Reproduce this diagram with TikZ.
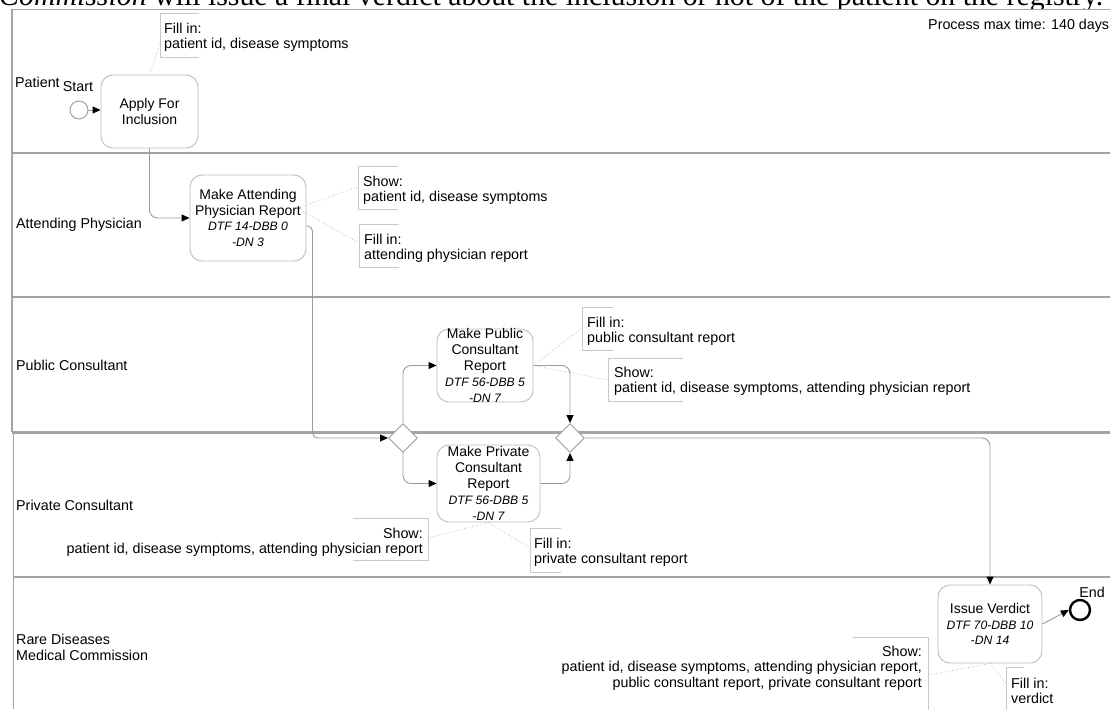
\documentclass[tikz,border=0pt]{standalone}
\usepackage{fontspec}
\setmainfont{Liberation Sans}
\newfontfamily\serifface{Liberation Serif}
\usetikzlibrary{arrows.meta,shapes.geometric,calc}

\definecolor{laneline}{HTML}{A4A4A4}
\definecolor{taskline}{HTML}{BDBDBD}
\definecolor{flowline}{HTML}{9C9C9C}
\definecolor{noteline}{HTML}{C8C8C8}
\definecolor{assocline}{HTML}{B0B0B0}

\tikzset{
  lane/.style={draw=laneline, line width=1.3pt},
  lbl/.style={inner sep=0pt, font=\fontsize{14.3}{16}\selectfont},
  task/.style={draw=taskline, fill=white, rounded corners=12pt, line width=0.9pt, inner sep=0pt},
  tasktext/.style={align=center, inner sep=0pt, font=\fontsize{14}{15.8}\selectfont},
  gateway/.style={diamond, draw=flowline, fill=white, minimum width=29pt, minimum height=29pt, inner sep=0pt, line width=0.9pt},
  flow/.style={draw=flowline, line width=0.9pt, rounded corners=8pt, -{Triangle[length=8pt,width=7pt,color=black]}},
  assoc/.style={draw=assocline, line width=0.7pt, dotted},
  note/.style={draw=noteline, line width=0.9pt},
  notel/.style={align=left, inner sep=0pt, anchor=north west, font=\fontsize{14.3}{15.5}\selectfont},
  noter/.style={align=right, inner sep=0pt, anchor=north east, font=\fontsize{14.3}{15.5}\selectfont},
}
\newcommand{\dtf}[1]{{\fontsize{12.2}{15.8}\selectfont\itshape #1}}

\begin{document}
\begin{tikzpicture}[x=1pt, y=-1pt]
\useasboundingbox (0,0) rectangle (1110,709);

% running text of the page above the pool, cut by the frame
\begin{scope}
  \clip (-5,-30) rectangle (1115,9.5);
  \node[anchor=base west, inner sep=0pt] (caption) at (-1,6)
    {\resizebox{1104pt}{!}{\serifface\fontsize{24}{24}\selectfont\textit{Commission} will issue a final verdict about the inclusion or not of the patient on the registry.}};
\end{scope}

% pool frame and lane separators
\draw[lane] (12,9.5) -- (1110,9.5);
\draw[lane] (12,9.5) -- (12,432);
\draw[lane] (13.5,432) -- (13.5,709);
\draw[lane] (12,153) -- (1110,153);
\draw[lane] (12,297) -- (1110,297);
\draw[lane, line width=2.2pt] (12,432.5) -- (1110,432.5);
\draw[lane] (13.5,577) -- (1110,577);

% lane titles
\node[lbl, anchor=west] (lanePatient) at (15,82) {Patient};
\node[lbl, anchor=west] (laneAttending) at (16,225) {Attending Physician};
\node[lbl, anchor=west] (lanePublic) at (16,365) {Public Consultant};
\node[lbl, anchor=west] (lanePrivate) at (16,505) {Private Consultant};
\node[lbl, anchor=north west, align=left] (laneCommission) at (16,633.5) {Rare Diseases\\Medical Commission};
\node[lbl, anchor=north west] (maxtime) at (928,18.5) {Process max time: 140 days};

% events and gateways
\node[circle, draw=flowline, fill=white, minimum size=18pt, inner sep=0pt, line width=0.9pt] (start) at (79,110) {};
\node[lbl] (startlbl) at (78,87) {Start};
\node[gateway] (gw1) at (403,438) {};
\node[gateway] (gw2) at (570,438) {};
\node[circle, draw=black, fill=white, minimum size=20pt, inner sep=0pt, line width=2.4pt] (end) at (1080,610) {};
\node[lbl] (endlbl) at (1092,592) {End};

% tasks
\node[task, minimum width=97pt, minimum height=73pt] (apply) at (149.5,111.5) {};
\node[tasktext] at (apply.center) {Apply For\\Inclusion};
\node[task, minimum width=116pt, minimum height=86pt] (attend) at (248,218) {};
\node[tasktext] at (attend.center) {Make Attending\\Physician Report\\\dtf{DTF 14-DBB 0}\\\dtf{-DN 3}};
\node[task, minimum width=96pt, minimum height=73pt] (pub) at (485,365.5) {};
\node[tasktext] at (pub.center) {Make Public\\Consultant\\Report\\\dtf{DTF 56-DBB 5}\\\dtf{-DN 7}};
\node[task, minimum width=103pt, minimum height=77pt] (priv) at (488.5,483.5) {};
\node[tasktext] at (priv.center) {Make Private\\Consultant\\Report\\\dtf{DTF 56-DBB 5}\\\dtf{-DN 7}};
\node[task, minimum width=104pt, minimum height=78pt] (verdict) at (990,624) {};
\node[tasktext] at (verdict.center) {Issue Verdict\\\dtf{DTF 70-DBB 10}\\\dtf{-DN 14}};

% sequence flows
\draw[flow] (start) -- (start -| apply.west);
\draw[flow] (apply.south) |- (attend.west);
\draw[flow, rounded corners=5pt] ($(attend.east)+(0,8)$) -- ++(6,0) |- (gw1.west);
\draw[flow] (gw1.north) |- (pub.west);
\draw[flow] (gw1.south) |- (priv.west);
\draw[flow] (pub.east) -| (gw2.north);
\draw[flow] (priv.east) -| (gw2.south);
\draw[flow] (gw2.east) -| (verdict.north);
\draw[flow] (verdict.east) -- (end.west);

% data annotations
\coordinate (n1) at (160,43);
\draw[note] (199,13) -- (160,13) -- (160,57) -- (199,57);
\node[notel] (t1) at (164,22.5) {Fill in:\\patient id, disease symptoms};
\draw[assoc] (apply.north) -- (n1);

\coordinate (n2) at (358,187);
\draw[note] (398,166) -- (358,166) -- (358,209) -- (398,209);
\node[notel] (t2) at (363,175.5) {Show:\\patient id, disease symptoms};
\draw[assoc] ($(attend.east)+(-9,-10)$) -- (n2);

\coordinate (n3) at (359,243);
\draw[note] (399,224) -- (359,224) -- (359,267) -- (399,267);
\node[notel] (t3) at (364,233.5) {Fill in:\\attending physician report};
\draw[assoc] ($(attend.east)+(-6,-8)$) -- (n3);

\coordinate (n4) at (582,328);
\draw[note] (613,307) -- (582,307) -- (582,350) -- (613,350);
\node[notel] (t4) at (587,316.5) {Fill in:\\public consultant report};
\draw[assoc] (pub.east) -- (n4);

\coordinate (n5) at (608,380);
\draw[note] (683,358) -- (608,358) -- (608,401) -- (683,401);
\node[notel] (t5) at (614,366.5) {Show:\\patient id, disease symptoms, attending physician report};
\draw[assoc] (pub.east) -- (n5);

\coordinate (n6) at (428,538);
\draw[note] (353,518) -- (428,518) -- (428,560) -- (353,560);
\node[noter] (t6) at (423,527.5) {Show:\\patient id, disease symptoms, attending physician report};
\draw[assoc] (priv.south) -- (n6);

\coordinate (n7) at (530,548);
\draw[note] (561,528) -- (530,528) -- (530,572) -- (561,572);
\node[notel] (t7) at (534,537.5) {Fill in:\\private consultant report};
\draw[assoc] (priv.south) -- (n7);

\coordinate (n8) at (928,675);
\draw[note] (853,637) -- (928,637) -- (928,720);
\node[noter] (t8) at (922,645.5) {Show:\\patient id, disease symptoms, attending physician report,\\public consultant report, private consultant report};
\draw[assoc] (verdict.south) -- (n8);

\coordinate (n9) at (1006,683);
\draw[note] (1024,667) -- (1006,667) -- (1006,720);
\node[notel] (t9) at (1011,677.5) {Fill in:\\verdict};
\draw[assoc] (verdict.south) -- (n9);
\end{tikzpicture}
\end{document}
